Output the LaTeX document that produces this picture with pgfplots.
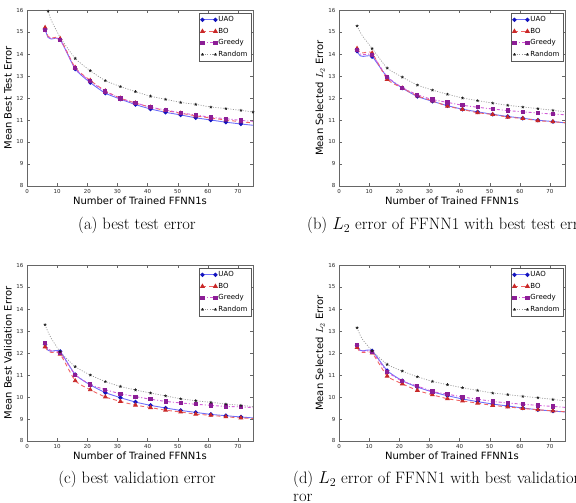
\documentclass[border=0pt]{standalone}
\usepackage{fontspec}
\usepackage{pgfplots}
\usepackage{pgfplotstable}
\pgfplotsset{compat=1.18}
\newfontfamily\dejavu{DejaVu Sans}

\definecolor{uaoM}{RGB}{20,20,190}
\definecolor{uaoL}{RGB}{110,110,250}
\definecolor{boM}{RGB}{200,40,40}
\definecolor{boL}{RGB}{240,100,100}
\definecolor{grM}{RGB}{140,30,150}
\definecolor{grL}{RGB}{210,90,215}
\definecolor{rdM}{RGB}{30,30,30}
\definecolor{rdL}{RGB}{150,150,150}

\pgfplotstableread{
x uao bo gr rd
6 15.12 15.20 15.10 16.45
7 14.75 14.80 14.78 15.95
8 14.68 14.72 14.70 15.55
11 14.66 14.70 14.65 14.76
16 13.32 13.38 13.35 13.80
21 12.70 12.80 12.76 13.24
26 12.22 12.32 12.30 12.79
31 11.95 11.99 11.98 12.52
36 11.70 11.77 11.78 12.29
41 11.50 11.58 11.58 12.08
46 11.35 11.43 11.46 11.94
51 11.23 11.31 11.32 11.80
56 11.10 11.19 11.23 11.71
61 11.00 11.09 11.12 11.59
66 10.90 11.00 11.06 11.52
71 10.82 10.92 10.98 11.44
75 10.76 10.87 10.94 11.36
}\tabA

\pgfplotstableread{
x uao bo gr rd
6 14.13 14.25 14.18 15.28
7 13.92 14.07 14.00 15.00
8 13.89 14.05 13.97 14.78
11 13.88 14.04 13.95 14.25
16 12.95 12.85 12.97 13.36
21 12.45 12.45 12.47 12.95
26 12.07 12.10 12.15 12.59
31 11.85 11.87 11.93 12.36
36 11.65 11.63 11.80 12.17
41 11.49 11.48 11.67 12.00
46 11.37 11.33 11.58 11.88
51 11.26 11.25 11.50 11.77
56 11.16 11.13 11.43 11.67
61 11.08 11.07 11.37 11.59
66 10.99 10.97 11.32 11.52
71 10.93 10.92 11.27 11.44
75 10.87 10.88 11.24 11.38
}\tabB

\pgfplotstableread{
x uao bo gr rd
6 12.39 12.28 12.47 13.29
7 12.12 12.08 12.20 12.95
8 12.08 12.03 12.10 12.68
11 12.07 11.95 12.00 12.06
16 11.02 10.74 11.02 11.38
21 10.55 10.33 10.57 11.00
26 10.20 10.00 10.33 10.70
31 9.97 9.80 10.15 10.48
36 9.77 9.63 10.02 10.32
41 9.62 9.52 9.90 10.18
46 9.50 9.40 9.80 10.05
51 9.39 9.32 9.73 9.92
56 9.30 9.22 9.67 9.83
61 9.21 9.17 9.62 9.76
66 9.15 9.10 9.57 9.68
71 9.09 9.05 9.55 9.62
75 9.05 9.02 9.52 9.56
}\tabC

\pgfplotstableread{
x uao bo gr rd
6 12.35 12.25 12.35 13.15
7 12.12 12.05 12.12 12.82
8 12.10 12.02 12.08 12.58
11 12.10 12.00 12.05 12.10
16 11.20 10.95 11.15 11.48
21 10.74 10.60 10.72 11.18
26 10.45 10.30 10.50 10.92
31 10.23 10.10 10.25 10.71
36 10.06 9.92 10.13 10.56
41 9.91 9.82 10.00 10.42
46 9.79 9.72 9.90 10.30
51 9.68 9.62 9.80 10.18
56 9.59 9.55 9.73 10.11
61 9.50 9.48 9.67 10.03
66 9.42 9.42 9.62 9.97
71 9.36 9.37 9.57 9.89
75 9.32 9.33 9.53 9.83
}\tabD

\pgfplotsset{
  myaxis/.style={
    scale only axis, width=226pt, height=176pt,
    xmin=0, xmax=75, ymin=8, ymax=16,
    xtick={0,10,...,70}, ytick={8,9,...,16},
    tick align=inside, major tick length=3pt,
    axis line style={black!60}, tick style={black!60},
    /pgf/number format/assume math mode=true,
    tick label style={font=\dejavu\fontsize{5.5}{6}\selectfont, text=black!85},
    label style={font=\dejavu\fontsize{10}{12}\selectfont},
    xlabel={Number of Trained FFNN1s},
    xlabel style={at={(axis description cs:0.5,-0.085)}, anchor=center},
    ylabel style={at={(axis description cs:-0.084,0.5)}, anchor=center},
    legend style={at={(0.991,0.983)}, anchor=north east,
      font=\dejavu\fontsize{7}{8}\selectfont, draw=black!65,
      inner sep=2pt, row sep=2.2pt, nodes={inner sep=1.3pt}},
    legend cell align=left,
    legend image code/.code={\draw[##1, mark indices={1,2}] plot coordinates {(0pt,0pt) (13pt,0pt)};},
  },
  mk/.style={smooth, tension=0.35, mark indices={1,4,5,6,7,8,9,10,11,12,13,14,15,16}},
  uao/.style={mk, uaoL, solid, line width=0.9pt, mark=*, mark size=1.7pt, mark options={uaoM, solid}},
  bo/.style={mk, boL, dash pattern=on 4pt off 3pt, line width=0.9pt, mark=triangle*, mark size=2pt, mark options={boM, solid}},
  gr/.style={mk, grL, dash pattern=on 3pt off 2pt on 1pt off 2pt, line width=0.9pt, mark=square*, mark size=1.6pt, mark options={grM, solid}},
  rd/.style={mk, rdL, dash pattern=on 1pt off 1.5pt, line width=0.7pt, mark=star, mark size=1.5pt, mark options={rdM, solid, line width=0.6pt}},
}

\newcommand{\fourplots}[1]{%
  \addplot[uao] table[x=x, y=uao] {#1};
  \addplot[bo] table[x=x, y=bo] {#1};
  \addplot[gr] table[x=x, y=gr] {#1};
  \addplot[rd] table[x=x, y=rd] {#1};
  \legend{UAO, BO, Greedy, Random}
}

\begin{document}
\begin{tikzpicture}
\path[use as bounding box] (0pt,0pt) rectangle (576pt,503pt);
\clip (0pt,0pt) rectangle (576pt,503pt);

\begin{axis}[myaxis, at={(27pt,317pt)}, anchor=south west, ylabel={Mean Best Test Error}]
\fourplots{\tabA}
\end{axis}

\begin{axis}[myaxis, at={(339pt,317pt)}, anchor=south west, ylabel={Mean Selected $L_2$ Error}]
\fourplots{\tabB}
\end{axis}

\begin{axis}[myaxis, at={(27pt,62pt)}, anchor=south west, ylabel={Mean Best Validation Error}]
\fourplots{\tabC}
\end{axis}

\begin{axis}[myaxis, at={(339pt,62pt)}, anchor=south west, ylabel={Mean Selected $L_2$ Error}]
\fourplots{\tabD}
\end{axis}

\node[anchor=base, inner sep=0pt, font=\fontsize{16.5}{18}\selectfont] at (137pt,273pt) {(a) best test error};
\node[anchor=base west, inner sep=0pt, font=\fontsize{16.5}{18}\selectfont] at (307pt,273pt) {(b) $L_2$ error of FFNN1 with best test error};
\node[anchor=base, inner sep=0pt, font=\fontsize{16.5}{18}\selectfont] at (137pt,19pt) {(c) best validation error};
\node[anchor=base west, inner sep=0pt, font=\fontsize{16.5}{18}\selectfont] at (293pt,19pt) {(d) $L_2$ error of FFNN1 with best validation er-};
\node[anchor=base west, inner sep=0pt, font=\fontsize{16.5}{18}\selectfont] at (293pt,1.5pt) {ror};
\end{tikzpicture}
\end{document}
